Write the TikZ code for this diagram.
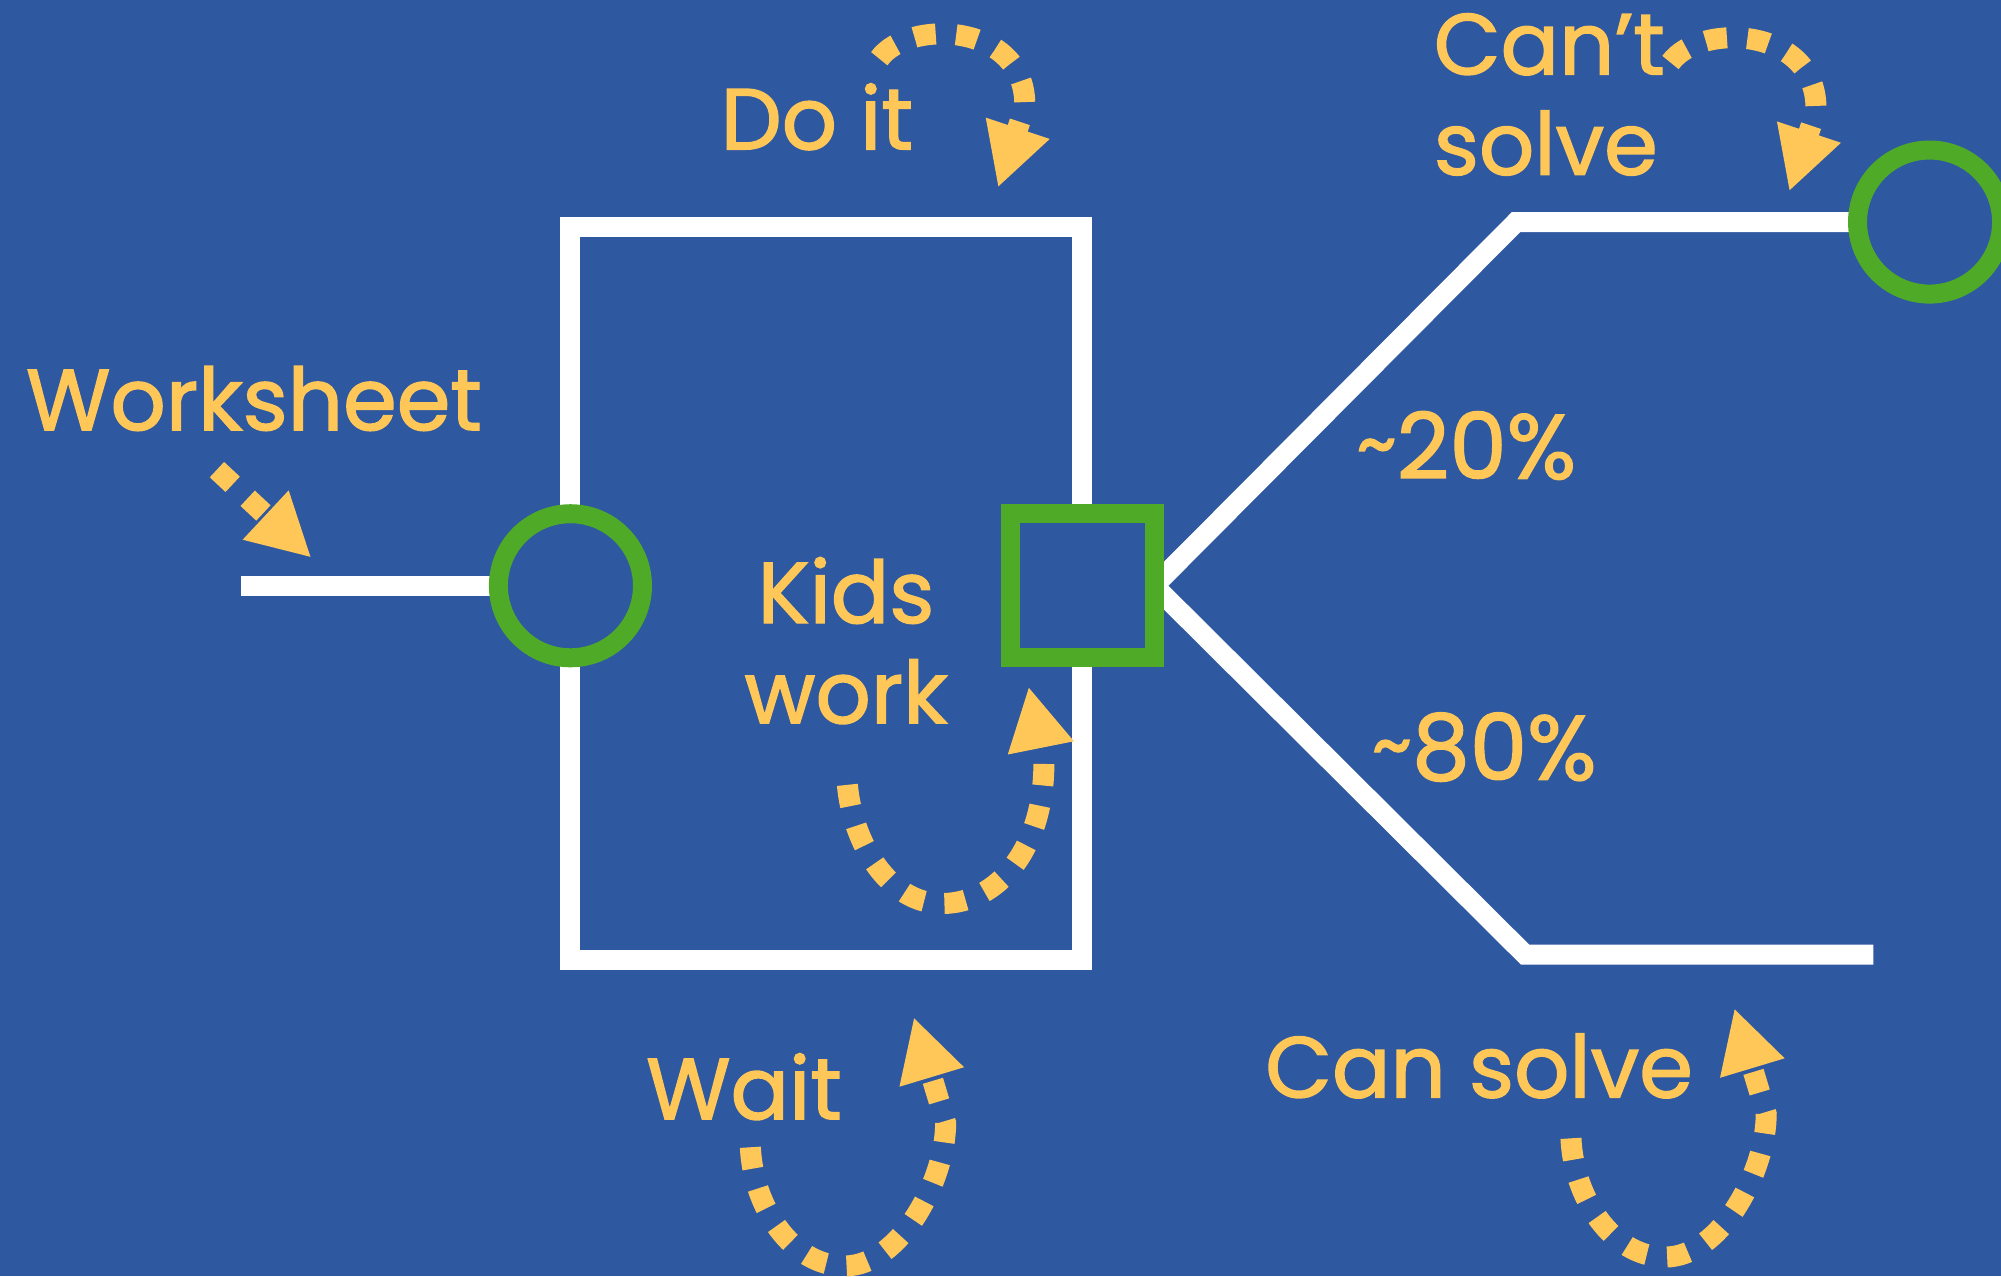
\documentclass[tikz,border=0pt]{standalone}
\usepackage{fontspec}
\setmainfont{Poppins}
\newfontfamily\tagfont{Poppins}[FakeBold=1.6]
\definecolor{slateblue}{RGB}{46,88,160}
\definecolor{flowyellow}{RGB}{255,199,88}
\definecolor{flowgreen}{RGB}{79,170,40}
\usetikzlibrary{arrows.meta,backgrounds}
\newcommand{\approxsign}{\raisebox{0.08em}{\scalebox{0.85}[0.9]{\textasciitilde}}}
\tikzset{
  wire/.style={draw=white, line width=0.2cm},
  port/.style={draw=flowgreen, fill=slateblue, line width=0.19cm, inner sep=0pt, outer sep=0pt, minimum size=1.44cm},
  tag/.style={text=flowyellow, font=\tagfont\fontsize{24.6}{28.5}\selectfont, inner sep=0pt},
  share/.style={tag, font=\tagfont\fontsize{26}{30}\selectfont},
  cue/.style={draw=flowyellow, line width=0.21cm, dash pattern=on 0.215cm off 0.205cm, -{Triangle[length=0.625cm,width=0.625cm]}},
}

\begin{document}
\begin{tikzpicture}[x=0.01276cm, y=-0.01276cm]
  \useasboundingbox (0,0) rectangle (1568,1000);

  % ports
  \node[port, circle] (inlet) at (447,459) {};
  \node[port, rectangle] (outlet) at (848,459) {};
  \node[port, circle] (goal) at (1512,174) {};

  % box and wires
  \coordinate (feed) at (189,459);
  \coordinate (bendup) at (1188,174);
  \coordinate (benddown) at (1195,748);
  \coordinate (tail) at (1468,748);
  \begin{pgfonlayer}{background}
    \fill[slateblue] (0,0) rectangle (1568,1000);
    \draw[wire] (447,178) rectangle (848,752);
    \draw[wire] (feed) -- (inlet.west);
    \draw[wire] (goal.west) -- (bendup) -- (outlet.east) -- (benddown) -- (tail);
  \end{pgfonlayer}

  % labels
  \node[tag, anchor=base] (worksheet) at (199,337) {Worksheet};
  \node[tag, anchor=base] (doit) at (640,117) {Do it};
  \node[tag, align=center] (kids) at (663,502) {Kids\\work};
  \node[share, anchor=base] (low) at (1149,375) {\approxsign20\%};
  \node[share, anchor=base] (high) at (1163,611) {\approxsign80\%};
  \node[tag, anchor=base] (wait) at (583,877) {Wait};
  \node[tag, anchor=base] (cansolve) at (1159,860) {Can solve};
  \node[tag, align=left, anchor=west] (cantsolve) at (1123,74) {Can’t\\solve};

  % dashed hints
  \coordinate (ws-a) at (170,368);
  \coordinate (ws-b) at (244,437);
  \draw[cue] (ws-a) -- (ws-b);

  \coordinate (doit-a) at (689,46);
  \coordinate (doit-b) at (782,147);
  \draw[cue] (doit-a) .. controls (712,14) and (805,18) .. (803,84) -- (doit-b);

  \coordinate (cant-a) at (1309,49);
  \coordinate (cant-b) at (1402,150);
  \draw[cue] (cant-a) .. controls (1332,17) and (1425,21) .. (1423,87) -- (cant-b);

  \coordinate (kids-a) at (664,615);
  \coordinate (kids-b) at (806,538);
  \draw[cue] (kids-a) .. controls (668,660) and (696,708) .. (738,708)
    .. controls (782,708) and (818,665) .. (818,598) -- (kids-b);

  \coordinate (wait-a) at (588,899);
  \coordinate (wait-b) at (716,797);
  \draw[cue] (wait-a) .. controls (590,945) and (620,992) .. (662,992)
    .. controls (705,992) and (741,925) .. (741,880) -- (wait-b);

  \coordinate (can-a) at (1231,892);
  \coordinate (can-b) at (1359,790);
  \draw[cue] (can-a) .. controls (1233,938) and (1263,985) .. (1305,985)
    .. controls (1348,985) and (1384,918) .. (1384,873) -- (can-b);
\end{tikzpicture}
\end{document}
